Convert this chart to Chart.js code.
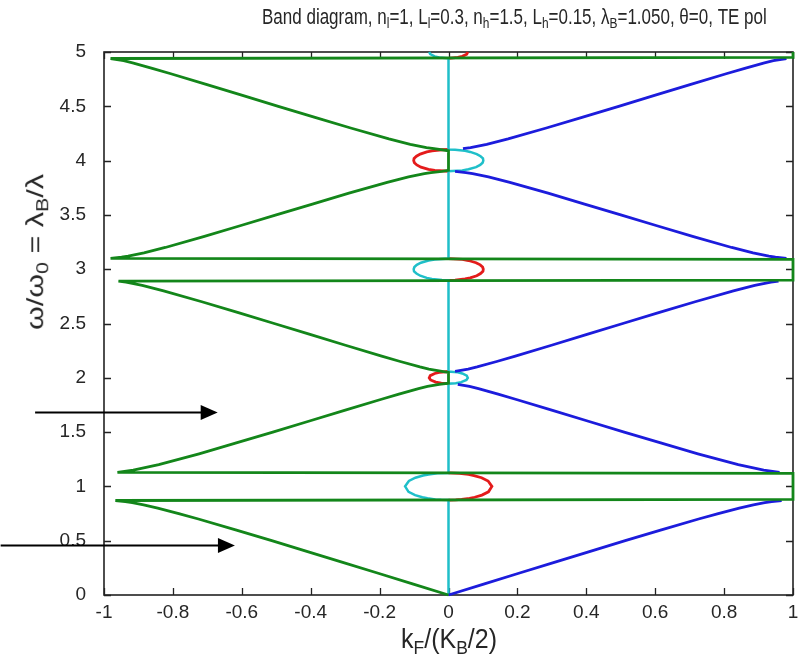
<!DOCTYPE html>
<html><head><meta charset="utf-8">
<script src="https://cdn.jsdelivr.net/npm/chart.js@4.4.1/dist/chart.umd.min.js"></script>
<style>
html,body{margin:0;padding:0;background:#fff;}
#wrap{position:relative;width:804px;height:663px;overflow:hidden;}
#c{position:absolute;left:0;top:0;}
.t{position:absolute;font-family:"Liberation Sans",Arial,sans-serif;color:#262626;white-space:nowrap;line-height:1.15;}
.t sub{font-size:70%;vertical-align:-0.3em;line-height:0;}
#title{left:262px;top:5px;font-size:17px;transform:scaleY(1.25);transform-origin:0 0;}
#xt{left:449px;top:623px;font-size:25px;transform:translateX(-50%) scaleY(1.1);transform-origin:50% 0;}
#yt{left:35px;top:252px;font-size:24px;transform:translate(-50%,-50%) rotate(-90deg) scaleX(1.27);}
</style></head><body>
<div id="wrap">
<canvas id="c" width="804" height="663"></canvas>
<div class="t" id="title">Band diagram, n<sub>l</sub>=1, L<sub>l</sub>=0.3, n<sub>h</sub>=1.5, L<sub>h</sub>=0.15, λ<sub>B</sub>=1.050, θ=0, TE pol</div>
<div class="t" id="xt">k<sub>F</sub>/(K<sub>B</sub>/2)</div>
<div class="t" id="yt">ω/ω<sub>0</sub> = λ<sub>B</sub>/λ</div>
</div>
<script>
// ---- tick labels ----
const xTickValues = [-1,-0.8,-0.6,-0.4,-0.2,0,0.2,0.4,0.6,0.8,1];
const xTickLabels = ['-1','-0.8','-0.6','-0.4','-0.2','0','0.2','0.4','0.6','0.8','1'];
const yTickValues = [0,0.5,1,1.5,2,2.5,3,3.5,4,4.5,5];
const yTickLabels = ['0','0.5','1','1.5','2','2.5','3','3.5','4','4.5','5'];

// ---- real part of Bloch wavenumber |k| (k_F/(K_B/2)) along each allowed band ----
const bandOmega1 = [0,0.1,0.2,0.3,0.4,0.5,0.6,0.7,0.75,0.8,0.83,0.85,0.86,0.87];
const bandK1     = [0,0.102,0.204,0.307,0.409,0.513,0.618,0.726,0.783,0.844,0.885,0.918,0.938,0.967];
const bandOmega2 = [1.13,1.15,1.2,1.3,1.4,1.5,1.6,1.7,1.8,1.85,1.9,1.92,1.94];
const bandK2     = [0.961,0.915,0.841,0.724,0.616,0.510,0.406,0.302,0.197,0.144,0.087,0.061,0.027];
const bandOmega3 = [2.06,2.08,2.1,2.15,2.2,2.3,2.4,2.5,2.6,2.7,2.8,2.85,2.88,2.89];
const bandK3     = [0.019,0.057,0.083,0.140,0.194,0.299,0.402,0.506,0.610,0.716,0.827,0.889,0.936,0.958];
const bandOmega4 = [3.1,3.11,3.12,3.15,3.2,3.3,3.4,3.5,3.6,3.7,3.8,3.85,3.88,3.89,3.9];
const bandK4     = [0.981,0.949,0.930,0.884,0.822,0.711,0.605,0.500,0.395,0.289,0.178,0.116,0.070,0.051,0.019];
const bandOmega5 = [4.11,4.12,4.15,4.2,4.3,4.4,4.5,4.6,4.7,4.8,4.85,4.9,4.92,4.94];
const bandK5     = [0.042,0.064,0.111,0.173,0.284,0.390,0.494,0.598,0.701,0.806,0.860,0.917,0.943,0.981];

// ---- real part inside the gaps (green branch) ----
const gapReOmega1 = [0.88,1.12];  const gapRe1 = [1,1];
const gapReOmega2 = [1.95,2.05];  const gapRe2 = [0,0];
const gapReOmega3 = [2.9,3.09];   const gapRe3 = [1,1];
const gapReOmega4 = [3.91,4.09];  const gapRe4 = [0,0];
const gapReOmega5 = [4.95,5.0];   const gapRe5 = [1,1];

// ---- imaginary part inside the gaps ----
const gapImOmega1 = [0.874,0.876,0.88,0.89,0.9,0.92,0.95,1.0,1.05,1.08,1.1,1.11,1.12,1.124];
const gapIm1      = [0,0.021,0.038,0.061,0.076,0.097,0.116,0.126,0.115,0.096,0.074,0.058,0.032,0];
const gapImOmega2 = [1.9455,1.95,1.96,1.98,2.0,2.02,2.04,2.05,2.058];
const gapIm2      = [0,0.021,0.037,0.052,0.056,0.053,0.040,0.027,0];
const gapImOmega3 = [2.898,2.9,2.91,2.92,2.94,2.96,2.98,3.0,3.02,3.04,3.06,3.08,3.09,3.098];
const gapIm3      = [0,0.019,0.048,0.063,0.082,0.093,0.100,0.101,0.099,0.092,0.080,0.058,0.040,0];
const gapImOmega4 = [3.902,3.91,3.92,3.94,3.96,3.98,4.0,4.02,4.04,4.06,4.08,4.09,4.1,4.102];
const gapIm4      = [0,0.040,0.058,0.080,0.092,0.099,0.101,0.100,0.093,0.082,0.063,0.048,0.019,0];
const gapImOmega5 = [4.942,4.95,4.96,4.98,5.0];
const gapIm5      = [0,0.027,0.040,0.053,0.056];
const cyanSide    = [-1,1,-1,1,-1];   // which side the cyan half sits on, per gap

// ---- annotation arrows (data coords) ----
const arrowY     = [1.68, 0.455];
const arrowXFrom = [-1.20, -1.30];
const arrowXTo   = [-0.67, -0.62];

// ---- build datasets ----
const bandsW = [bandOmega1,bandOmega2,bandOmega3,bandOmega4,bandOmega5];
const bandsK = [bandK1,bandK2,bandK3,bandK4,bandK5];
const gapReW = [gapReOmega1,gapReOmega2,gapReOmega3,gapReOmega4,gapReOmega5];
const gapReK = [gapRe1,gapRe2,gapRe3,gapRe4,gapRe5];
const gapImW = [gapImOmega1,gapImOmega2,gapImOmega3,gapImOmega4,gapImOmega5];
const gapImV = [gapIm1,gapIm2,gapIm3,gapIm4,gapIm5];

const greenPts = [], bluePts = [], cyanPts = [{x:0,y:0}], redPts = [];
for (let i=0;i<5;i++){
  bandsW[i].forEach((w,j)=>{ greenPts.push({x:-bandsK[i][j], y:w}); bluePts.push({x:bandsK[i][j], y:w}); });
  bluePts.push({x:null,y:null});
  gapReW[i].forEach((w,j)=>greenPts.push({x:gapReK[i][j], y:w}));
  gapImW[i].forEach((w,j)=>{ cyanPts.push({x:cyanSide[i]*gapImV[i][j], y:w}); redPts.push({x:-cyanSide[i]*gapImV[i][j], y:w}); });
  redPts.push({x:null,y:null});
}

const GREEN='#13861a', BLUE='#1c1cdc', CYAN='#1fbfc9', RED='#e41b1b';

const framePlugin = {
  id:'frame',
  beforeDatasetsDraw(chart){
    const {ctx, chartArea:a, scales:{x,y}} = chart;
    ctx.save();
    ctx.strokeStyle='#222'; ctx.lineWidth=1.6;
    ctx.strokeRect(a.left, a.top, a.right-a.left, a.bottom-a.top);
    ctx.lineWidth=1.3;
    ctx.beginPath();
    xTickValues.forEach(v=>{ const px=Math.round(x.getPixelForValue(v))+0.5;
      ctx.moveTo(px,a.bottom); ctx.lineTo(px,a.bottom-7);
      ctx.moveTo(px,a.top); ctx.lineTo(px,a.top+7); });
    yTickValues.forEach(v=>{ const py=Math.round(y.getPixelForValue(v))+0.5;
      ctx.moveTo(a.left,py); ctx.lineTo(a.left+7,py);
      ctx.moveTo(a.right,py); ctx.lineTo(a.right-7,py); });
    ctx.stroke();
    ctx.restore();
  },
  afterDraw(chart){
    const {ctx, scales:{x,y}} = chart;
    ctx.save();
    ctx.strokeStyle='#000'; ctx.fillStyle='#000'; ctx.lineWidth=2;
    arrowY.forEach((v,i)=>{
      const py=y.getPixelForValue(v), x0=x.getPixelForValue(arrowXFrom[i]), x1=x.getPixelForValue(arrowXTo[i]);
      ctx.beginPath(); ctx.moveTo(x0,py); ctx.lineTo(x1-16,py); ctx.stroke();
      ctx.beginPath(); ctx.moveTo(x1,py); ctx.lineTo(x1-17,py-7.5); ctx.lineTo(x1-17,py+7.5); ctx.closePath(); ctx.fill();
    });
    ctx.restore();
  }
};

Chart.defaults.font.family = '"Liberation Sans", Arial, sans-serif';
Chart.defaults.font.size = 19;
Chart.defaults.color = '#262626';

const lineDs = (label, data, color, w) => ({label, data, showLine:true, borderColor:color, backgroundColor:color,
  borderWidth:w, pointRadius:0, pointHoverRadius:0, tension:0, spanGaps:false, clip:4});

new Chart(document.getElementById('c'), {
  type:'scatter',
  data:{ datasets:[
    lineDs('Re k (branch 1)', greenPts, GREEN, 2.8),
    lineDs('Re k (branch 2)', bluePts, BLUE, 2.8),
    lineDs('Im k (branch 1)', cyanPts, CYAN, 2.5),
    lineDs('Im k (branch 2)', redPts, RED, 2.8)
  ]},
  options:{
    responsive:false, animation:false, events:[],
    layout:{padding:{top:52, right:11, left:0, bottom:0}},
    plugins:{legend:{display:false}, tooltip:{enabled:false}, title:{display:false}},
    scales:{
      x:{type:'linear', min:-1, max:1,
         grid:{display:false}, border:{display:false},
         afterBuildTicks:s=>{ s.ticks = xTickValues.map(v=>({value:v})); },
         afterFit:s=>{ s.height = 68; },
         ticks:{padding:-2, maxRotation:0, autoSkip:false, callback:(v,i)=>xTickLabels[i]}},
      y:{type:'linear', min:0, max:5,
         grid:{display:false}, border:{display:false},
         afterBuildTicks:s=>{ s.ticks = yTickValues.map(v=>({value:v})); },
         afterFit:s=>{ s.width = 104; },
         ticks:{padding:10, autoSkip:false, callback:(v,i)=>yTickLabels[i]}}
    }
  },
  plugins:[framePlugin]
});
</script>
</body></html>
